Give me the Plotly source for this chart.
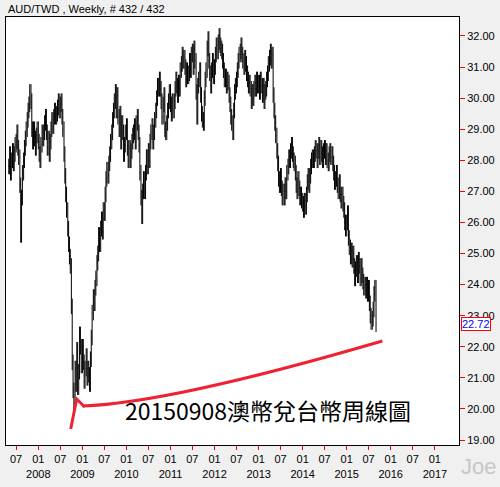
import plotly.graph_objects as go
import pandas as pd

# weekly closes grouped by calendar month, May 2007 .. Sep 2015
first_month = "2007-05"
weekly_closes_by_month = [
[27.8,28.2,27.6,28.0],[28.3,27.9,28.2,28.5],[28.6,28.9,28.4,28.1],[27.2,25.6,26.8,27.6],
[28.0,28.4,28.7,29.0],[29.3,29.6,29.8,30.2],[29.9,29.0,28.6,29.0],[28.7,28.4,28.8,29.0],
[28.6,28.2,28.0,28.5],[28.9,28.7,28.9,29.2],[29.4,28.9,28.4,28.7],[28.2,28.6,29.0,29.3],
[29.1,29.4,29.6,29.4],[29.5,29.7,29.9,29.6],[29.8,29.9,29.4,29.0],[28.2,27.5,26.9,26.4],
[25.8,25.3,24.9,24.6],[23.3,21.5,20.6,20.2],[21.3,20.8,21.9,20.7],[21.2,22.4,22.0,21.4],
[22.0,21.5,20.9,21.3],[21.7,21.0,21.3,21.1],[20.8,21.6,22.3,23.1],[23.6,23.4,23.9,24.2],
[24.7,25.0,25.6,25.3],[25.8,26.1,25.7,26.4],[26.3,26.9,27.4,27.7],[27.5,27.9,28.2,28.6],
[28.9,29.3,29.6,29.9],[30.2,29.6,30.1,29.4],[29.0,29.5,28.6,29.2],[28.9,28.2,28.5,28.9],
[29.1,28.4,28.0,28.4],[28.0,28.3,28.6,28.8],[28.9,29.1,28.6,29.2],[29.4,28.9,28.5,27.6],
[26.8,26.2,27.0,27.4],[27.0,27.6,28.1,27.8],[28.3,28.0,28.6,28.9],[29.1,28.6,28.9,29.3],
[29.6,30.0,30.4,30.3],[30.6,30.3,29.9,29.4],[29.8,30.1,29.0,28.9],[29.2,29.6,29.9,30.2],
[29.8,29.5,29.9,29.6],[29.9,30.3,30.6,30.4],[30.1,30.5,30.3,30.9],[31.1,31.4,31.2,31.3],
[31.0,30.6,30.9,30.7],[30.8,31.2,30.9,31.4],[31.5,31.0,31.6,31.2],[30.2,29.4,30.4,30.6],
[30.9,30.1,29.5,29.3],[29.2,30.0,30.6,30.9],[31.6,31.9,31.2,30.8],[30.4,30.9,31.2,30.7],
[31.0,31.4,31.7,31.5],[31.8,32.0,31.7,31.6],[31.5,31.2,30.9,30.6],[30.7,30.4,30.6,30.5],
[30.1,29.8,29.4,29.2],[28.9,29.6,30.2,30.4],[30.6,30.9,31.2,31.4],[31.5,31.7,31.4,31.2],
[31.0,31.3,31.1,30.8],[30.6,30.4,30.5,30.3],[29.9,30.2,30.0,30.3],[30.5,30.3,30.6,30.4],
[30.5,30.2,30.6,30.4],[30.1,30.4,29.9,30.2],[30.3,30.6,30.8,31.1],[31.3,31.5,31.2,31.4],
[30.1,29.6,29.2,28.8],[28.3,27.9,27.4,27.2],[27.5,27.1,26.8,27.0],[26.8,27.2,27.0,27.6],
[27.8,28.1,28.0,28.3],[28.5,28.2,28.0,27.9],[27.6,27.2,27.0,27.4],[27.1,26.8,26.9,26.7],
[26.6,26.4,26.7,26.5],[26.9,27.3,27.5,27.2],[27.5,27.8,28.0,28.1],[28.0,28.2,28.4,28.3],
[28.0,28.3,28.5,28.1],[28.4,28.2,28.0,28.3],[28.4,28.1,28.3,28.0],[27.9,28.2,28.3,28.1],
[28.2,27.9,27.6,27.3],[27.4,27.6,27.2,27.0],[27.3,26.9,26.7,26.9],[26.6,26.4,26.0,25.8],
[26.0,26.3,25.5,25.2],[24.9,25.1,24.8,25.0],[24.6,24.2,24.5,24.7],[24.3,24.8,24.6,24.2],
[24.6,24.3,24.1,23.9],[24.0,23.8,24.0,23.7],[23.9,23.4,23.0,22.8],[22.9,23.2,23.7,23.9],
[22.72],
]

months = pd.period_range(first_month, periods=len(weekly_closes_by_month), freq="M")
dates, closes = [], []
for m, vals in zip(months, weekly_closes_by_month):
    start = m.to_timestamp()
    for i, v in enumerate(vals):
        dates.append(start + pd.Timedelta(days=7 * i))
        closes.append(v)

opens = [closes[0]] + closes[:-1]
wick = 0.25
highs = [max(o, c) + wick for o, c in zip(opens, closes)]
lows = [min(o, c) - wick for o, c in zip(opens, closes)]

tick_vals = []
tick_text = []
for yr in range(2007, 2018):
    for m in (1, 7):
        d = pd.Timestamp(yr, m, 1)
        if pd.Timestamp("2007-05-01") < d < pd.Timestamp("2017-06-01"):
            tick_vals.append(d)
            tick_text.append("01<br>%d" % yr if m == 1 else "07<br> ")

y_ticks = list(range(19, 33))

fig = go.Figure(go.Ohlc(
    x=dates, open=opens, high=highs, low=lows, close=closes,
    increasing=dict(line=dict(color="black", width=1)),
    decreasing=dict(line=dict(color="black", width=1)),
    tickwidth=0.3, hoverinfo="skip"))

L, R, T, B = 5, 460, 17, 445
fig.update_layout(
    width=500, height=487, paper_bgcolor="#f0f0f0", plot_bgcolor="white",
    margin=dict(l=L, r=500 - R, t=T, b=487 - B), showlegend=False,
    font=dict(family="Liberation Sans", size=11, color="black"),
    xaxis=dict(range=["2007-04-08", "2017-07-20"], rangeslider=dict(visible=False),
               tickvals=tick_vals, ticktext=tick_text, ticks="outside", ticklen=4,
               tickcolor="red", showgrid=False, showline=True, linecolor="black",
               linewidth=1, mirror=True, tickfont=dict(size=11)),
    yaxis=dict(side="right", range=[18.84, 32.61], tickvals=y_ticks,
               ticktext=["%.2f" % v for v in y_ticks], ticks="outside", ticklen=5,
               tickcolor="red", showgrid=False, showline=True, linecolor="black",
               linewidth=1, mirror=True, tickfont=dict(size=11)),
)

def px(x):
    return (x - L) / (R - L)
def py(y):
    return (B - y) / (B - T)

red = dict(color="#ee2233", width=3)
fig.add_shape(type="path", xref="paper", yref="paper", line=red,
              path="M %f,%f L %f,%f L %f,%f" % (px(70), py(429), px(76), py(399), px(84), py(407)))
fig.add_shape(type="path", xref="paper", yref="paper", line=red,
              path="M %f,%f Q %f,%f %f,%f" % (px(82), py(406), px(170), py(403), px(383), py(341)))

fig.add_annotation(xref="paper", yref="paper", x=px(268), y=py(429), text="20150908澳幣兌台幣周線圖",
                   showarrow=False, font=dict(family="Noto Sans CJK TC", size=23, color="black"))
fig.add_annotation(xref="paper", yref="paper", x=0, xanchor="left", y=1, yanchor="bottom",
                   text="AUD/TWD , Weekly, # 432 / 432", showarrow=False,
                   font=dict(size=11))
fig.add_annotation(xref="paper", yref="y", x=1, xanchor="left", y=closes[-1], text="22.72",
                   showarrow=False, xshift=2, bordercolor="red", borderwidth=1, borderpad=0,
                   bgcolor="white", font=dict(size=11, color="blue"))
fig.add_annotation(xref="paper", yref="paper", x=px(480), xanchor="center", y=py(466), yanchor="middle",
                   text="Joe", showarrow=False, font=dict(size=22, color="#c8c8c8"))

fig.write_html("out.html", config=dict(displayModeBar=False),
               post_script="document.body.style.margin='0';document.body.style.overflow='hidden';")
